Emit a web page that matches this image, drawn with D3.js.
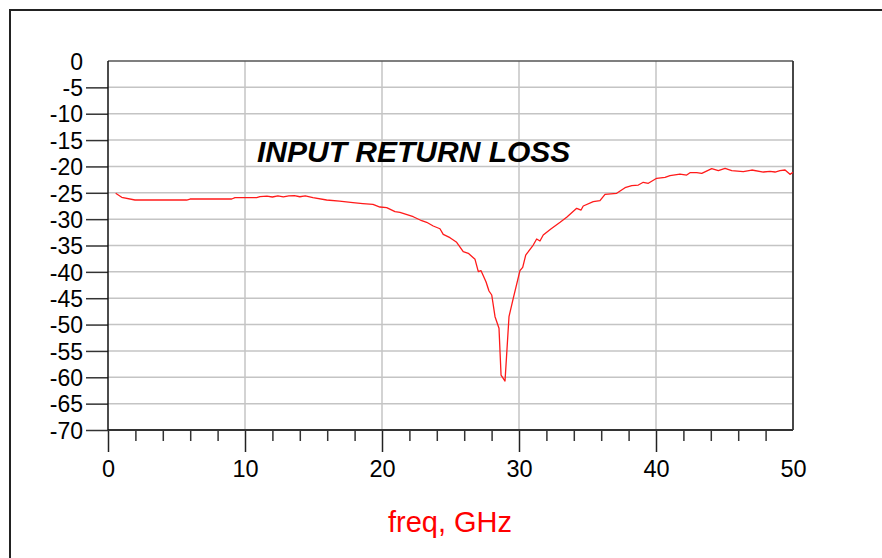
<!DOCTYPE html>
<html>
<head>
<meta charset="utf-8">
<script src="https://cdn.jsdelivr.net/npm/d3@7"></script>
<style>
  html, body { margin: 0; padding: 0; background: #fff; }
  svg { display: block; font-family: "Liberation Sans", Arial, sans-serif; }
</style>
</head>
<body>
<svg id="chart" width="882" height="558"></svg>
<script>
// ---- data ----
const freqGHz = [0.56, 1.0, 1.97, 5.74, 5.99, 9.03, 9.27, 10.85, 11.09, 11.6, 12.0, 12.4, 12.8, 13.2, 13.6, 14.0, 14.4, 14.96, 15.96, 16.9, 17.88, 18.6, 19.34, 19.85, 20.34, 20.95, 21.31, 22.28, 22.90, 23.26, 23.74, 24.23, 24.47, 24.96, 25.45, 25.93, 26.30, 26.79, 27.03, 27.23, 27.59, 27.81, 28.01, 28.25, 28.54, 28.69, 28.98, 29.27, 29.58, 30.07, 30.27, 30.49, 30.68, 31.04, 31.29, 31.53, 31.77, 32.3, 33.0, 33.48, 34.21, 34.53, 34.69, 35.42, 35.91, 36.28, 37.13, 37.74, 38.23, 38.71, 39.07, 39.44, 40.05, 40.66, 41.02, 41.75, 42.24, 42.48, 42.97, 43.34, 44.07, 44.55, 45.04, 45.53, 46.37, 46.99, 47.84, 48.32, 48.69, 49.05, 49.42, 49.78, 50.0];
const s11dB = [-25.1, -25.86, -26.37, -26.37, -26.18, -26.18, -25.93, -25.93, -25.74, -25.62, -25.8, -25.58, -25.78, -25.6, -25.55, -25.75, -25.6, -25.93, -26.37, -26.6, -26.88, -27.05, -27.19, -27.7, -27.83, -28.59, -28.70, -29.54, -30.30, -30.60, -31.30, -31.82, -32.88, -33.52, -34.40, -36.18, -36.48, -37.62, -39.97, -39.78, -41.87, -43.63, -44.39, -48.51, -50.71, -59.57, -60.71, -48.51, -45.02, -39.78, -39.14, -36.81, -36.18, -34.91, -33.77, -34.15, -33.01, -31.9, -30.6, -29.65, -27.95, -28.27, -27.51, -26.69, -26.50, -25.29, -25.10, -24.04, -23.66, -23.53, -23.01, -23.20, -22.25, -22.06, -21.76, -21.44, -21.63, -21.19, -21.19, -21.31, -20.43, -20.81, -20.36, -20.81, -21.0, -20.68, -21.06, -20.93, -21.06, -20.81, -20.68, -21.50, -21.12];
const xMajorTicks = [0, 10, 20, 30, 40, 50];
const xMinorTicks = [2, 4, 6, 8, 12, 14, 16, 18, 22, 24, 26, 28, 32, 34, 36, 38, 42, 44, 46, 48];
const yTicks = [0, -5, -10, -15, -20, -25, -30, -35, -40, -45, -50, -55, -60, -65, -70];
const titleText = "INPUT RETURN LOSS";
const xLabel = "freq, GHz";

// ---- layout ----
const svg = d3.select("#chart");
const L = 108, R = 793, T = 61, B = 430;
const x = d3.scaleLinear().domain([0, 50]).range([L, R]);
const y = d3.scaleLinear().domain([0, -70]).range([T, B]);
const fmt = d => String(d);

// outer frame
svg.append("path")
  .attr("d", "M10,570 L10,10 L890,10")
  .attr("fill", "none").attr("stroke", "#222").attr("stroke-width", 2);

// grid
const grid = svg.append("g").attr("stroke", "#c4c4c4").attr("stroke-width", 1.5);
grid.selectAll("line.h").data(yTicks.filter(d => d !== 0 && d !== -70)).join("line")
  .attr("x1", L).attr("x2", R).attr("y1", d => y(d)).attr("y2", d => y(d));
grid.selectAll("line.v").data(xMajorTicks.filter(d => d !== 0 && d !== 50)).join("line")
  .attr("y1", T).attr("y2", B).attr("x1", d => x(d)).attr("x2", d => x(d));

// y axis
const yAxis = svg.append("g").attr("transform", `translate(${L},0)`)
  .call(d3.axisLeft(y).tickValues(yTicks).tickSize(22).tickPadding(3).tickFormat(fmt));
yAxis.select(".domain").remove();
yAxis.selectAll(".tick line").attr("stroke", "#333").attr("stroke-width", 1.5)
  .filter(d => d === 0).remove();
yAxis.selectAll(".tick text").attr("font-size", 23).attr("fill", "#000")
  .attr("x", -25).attr("dy", "0.36em").attr("font-family", "Liberation Sans, Arial, sans-serif");

// x axis major
const xAxis = svg.append("g").attr("transform", `translate(0,${B})`)
  .call(d3.axisBottom(x).tickValues(xMajorTicks).tickSize(22).tickFormat(fmt));
xAxis.select(".domain").remove();
xAxis.selectAll(".tick line").attr("stroke", "#222").attr("stroke-width", 1.5)
  .filter(d => d === 50).remove();
xAxis.selectAll(".tick text").attr("font-size", 23.5).attr("fill", "#000")
  .attr("y", 47).attr("dy", 0).attr("font-family", "Liberation Sans, Arial, sans-serif");

// x axis minor
const xMinor = svg.append("g").attr("transform", `translate(0,${B})`)
  .call(d3.axisBottom(x).tickValues(xMinorTicks).tickSize(11).tickFormat(""));
xMinor.select(".domain").remove();
xMinor.selectAll(".tick line").attr("stroke", "#333").attr("stroke-width", 1.5);

// plot border
svg.append("line").attr("x1", L).attr("x2", R).attr("y1", T).attr("y2", T).attr("stroke", "#555").attr("stroke-width", 1.5);
svg.append("line").attr("x1", R).attr("x2", R).attr("y1", T).attr("y2", B).attr("stroke", "#333").attr("stroke-width", 1.8);
svg.append("line").attr("x1", L).attr("x2", R).attr("y1", B).attr("y2", B).attr("stroke", "#333").attr("stroke-width", 2);
svg.append("line").attr("x1", L).attr("x2", L).attr("y1", T).attr("y2", B).attr("stroke", "#111").attr("stroke-width", 1.5);

// data line
const pts = freqGHz.map((f, i) => [f, s11dB[i]]);
svg.append("path").datum(pts)
  .attr("fill", "none").attr("stroke", "#ff1a1a").attr("stroke-width", 1.3)
  .attr("stroke-linejoin", "round")
  .attr("d", d3.line().x(d => x(d[0])).y(d => y(d[1])));

// title
svg.append("text").attr("x", 257).attr("y", 162)
  .attr("font-size", 30).attr("font-weight", "bold").attr("font-style", "italic")
  .attr("fill", "#000").text(titleText);

// x label
svg.append("text").attr("x", 450).attr("y", 532).attr("text-anchor", "middle")
  .attr("font-size", 29).attr("fill", "#ff0000").text(xLabel);
</script>
</body>
</html>
